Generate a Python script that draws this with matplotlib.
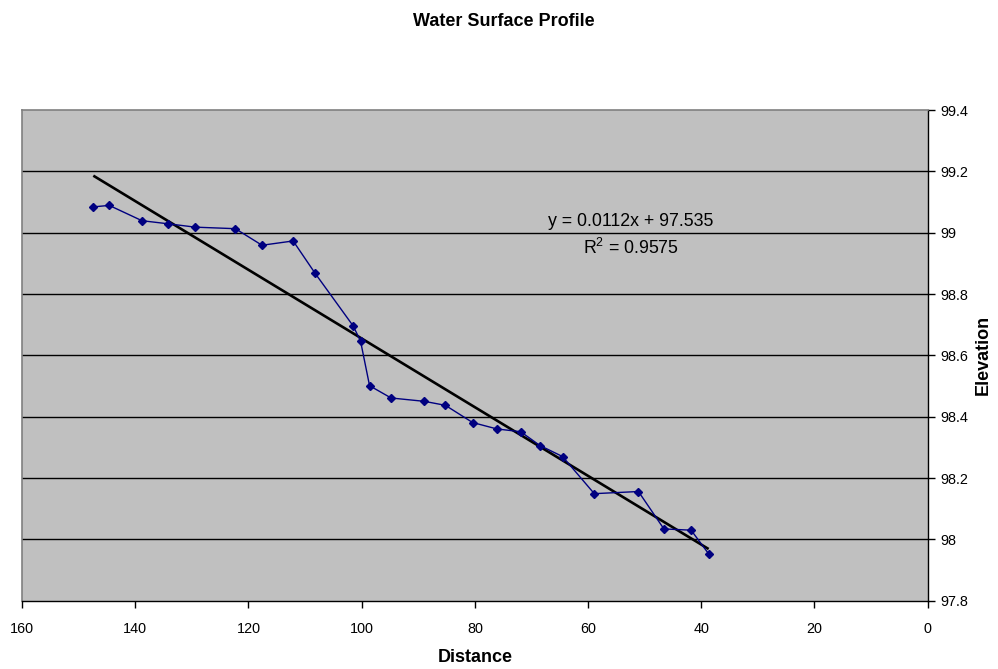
import matplotlib
matplotlib.use("Agg")
import matplotlib.pyplot as plt
import numpy as np

plt.rcParams['font.family'] = ['Liberation Sans', 'DejaVu Sans']
plt.rcParams['mathtext.fontset'] = 'custom'
plt.rcParams['mathtext.rm'] = 'Liberation Sans'
plt.rcParams['mathtext.it'] = 'Liberation Sans'
plt.rcParams['mathtext.default'] = 'regular'

# Data
distance = [147.4, 144.6, 138.8, 134.2, 129.4, 122.3, 117.6, 112.1, 108.2,
            101.5, 100.2, 98.6, 94.8, 88.9, 85.2, 80.4, 76.1, 71.9, 68.5,
            64.5, 58.9, 51.1, 46.6, 41.8, 38.7]
elevation = [99.084, 99.089, 99.039, 99.029, 99.018, 99.013, 98.959, 98.973,
             98.867, 98.696, 98.647, 98.501, 98.461, 98.450, 98.437, 98.381,
             98.360, 98.351, 98.306, 98.270, 98.149, 98.156, 98.034, 98.030,
             97.953]
trend_slope = 0.0112
trend_intercept = 97.535
eq_label = "y = 0.0112x + 97.535"
r2_label = "R$^{2}$ = 0.9575"
x_ticks = [160, 140, 120, 100, 80, 60, 40, 20, 0]
y_ticks = [97.8, 98.0, 98.2, 98.4, 98.6, 98.8, 99.0, 99.2, 99.4]
y_tick_labels = ["97.8", "98", "98.2", "98.4", "98.6", "98.8", "99", "99.2", "99.4"]

W, H = 998, 669
fig = plt.figure(figsize=(W / 100, H / 100), dpi=100)
left, right, top, bottom = 22, 927.7, 110, 600.7
ax = fig.add_axes([left / W, 1 - bottom / H, (right - left) / W, (bottom - top) / H])
ax.set_facecolor('#C0C0C0')

ax.set_xlim(160, 0)
ax.set_ylim(97.8, 99.4)

# gridlines
for yv in y_ticks[1:-1]:
    ax.axhline(yv, color='black', lw=1.0, zorder=1)

# trendline over data range
xs = np.array([min(distance), max(distance)])
ax.plot(xs, trend_slope * xs + trend_intercept, color='black', lw=1.9, zorder=3,
        solid_capstyle='butt')

# data series
ax.plot(distance, elevation, color='#000080', lw=1.0, marker='D', ms=4.3,
        markerfacecolor='#000080', markeredgecolor='#000080', zorder=4)

ax.text(52.4, 99.038, eq_label, ha='center', va='center', fontsize=12.8, color='black')
ax.text(52.4, 98.950, r2_label, ha='center', va='center', fontsize=12.8, color='black')

ax.set_xticks(x_ticks)
ax.set_xticklabels([str(v) for v in x_ticks])
ax.set_yticks(y_ticks)
ax.set_yticklabels(y_tick_labels)
ax.yaxis.tick_right()
ax.tick_params(axis='x', direction='out', length=5, width=1, pad=10.5, labelsize=10.4, color='black')
ax.tick_params(axis='y', direction='out', length=5, width=1, pad=4, labelsize=10.4, color='black')

for s in ['top', 'left']:
    ax.spines[s].set_color('#808080')
    ax.spines[s].set_linewidth(1.2)
for s in ['bottom', 'right']:
    ax.spines[s].set_color('black')
    ax.spines[s].set_linewidth(1.0)

ax.set_xlabel("Distance", fontsize=13, fontweight='bold')
ax.xaxis.set_label_coords(0.5, -(658 - bottom) / (bottom - top))
ax.xaxis.label.set_verticalalignment('center')

ax.set_ylabel("Elevation", fontsize=13, fontweight='bold', rotation=90)
ax.yaxis.set_label_position('right')
ax.yaxis.set_label_coords((983 - left) / (right - left), 0.5)
ax.yaxis.label.set_verticalalignment('center')
ax.yaxis.label.set_horizontalalignment('center')

fig.text(504 / W, 1 - 22 / H, "Water Surface Profile", ha='center', va='center',
         fontsize=13, fontweight='bold')

fig.savefig("out.png", dpi=100)
